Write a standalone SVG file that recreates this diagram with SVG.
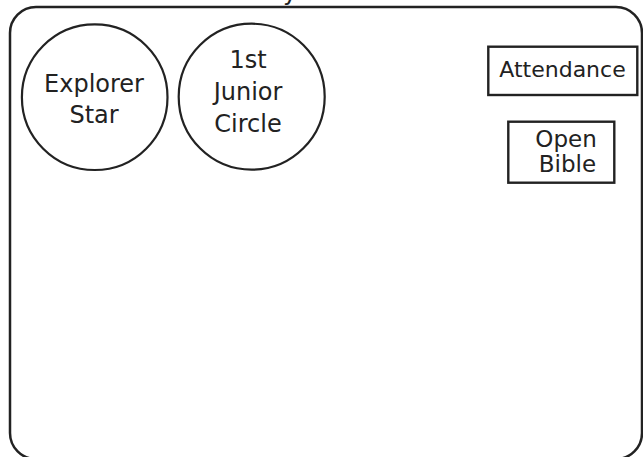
<svg xmlns="http://www.w3.org/2000/svg" width="643" height="457" viewBox="0 0 643 457">
<style>
.frame{fill:none;stroke:#222;stroke-width:2.5}
.node{fill:#fff;stroke:#222;stroke-width:2.2}
.box{fill:#fff;stroke:#222;stroke-width:2.4}
text{font-family:"DejaVu Sans",sans-serif;fill:#222;text-anchor:middle}
</style>
<rect width="643" height="457" fill="#fff"/>
<text x="290" y="-0.5" font-size="24">y</text>
<rect class="frame" x="10" y="7" width="632" height="452" rx="26" ry="26"/>
<g id="explorer-star">
<circle class="node" cx="94.7" cy="97.2" r="72.8"/>
<text x="94" y="91.7" font-size="24">Explorer</text>
<text x="94" y="122.7" font-size="24">Star</text>
</g>
<g id="junior-circle">
<circle class="node" cx="251.7" cy="96.7" r="73"/>
<text x="248" y="68.3" font-size="24">1st</text>
<text x="248" y="100.3" font-size="24">Junior</text>
<text x="248" y="131.7" font-size="24">Circle</text>
</g>
<g id="attendance">
<rect class="box" x="488.3" y="46.7" width="149" height="48.3"/>
<text x="562.5" y="76.7" font-size="22">Attendance</text>
</g>
<g id="open-bible">
<rect class="box" x="508.3" y="121.7" width="106" height="61"/>
<text x="566" y="146.7" font-size="23">Open</text>
<text x="567.5" y="171.7" font-size="23">Bible</text>
</g>
<g id="connectors"></g>
</svg>
